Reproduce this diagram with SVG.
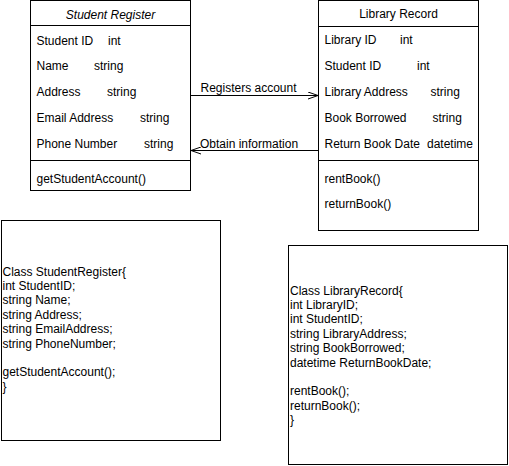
<svg xmlns="http://www.w3.org/2000/svg" width="509" height="466" viewBox="0 0 509 466">
<style>
.box{fill:#fff;stroke:#000;stroke-width:1}
.ln{stroke:#000;stroke-width:1;fill:none}
text{font-family:"Liberation Sans",Arial,sans-serif;font-size:12px;fill:#000}
.ttl{text-anchor:middle}
.it{font-style:italic}
</style>
<defs>
<marker id="open" viewBox="0 0 10 8" refX="10" refY="4" markerWidth="10" markerHeight="8" markerUnits="userSpaceOnUse" orient="auto">
<path d="M0,0.5 L10,4 L0,7.5" fill="none" stroke="#000" stroke-width="1"/>
</marker>
</defs>
<rect width="509" height="466" fill="#fff"/>
<g id="student-register">
<rect class="box" x="30.5" y="0.5" width="160" height="190"/>
<line class="ln" x1="30.5" y1="25.5" x2="190.5" y2="25.5"/>
<line class="ln" x1="30.5" y1="160.5" x2="190.5" y2="160.5"/>
<text class="ttl it" x="110.5" y="18.5">Student Register</text>
<text x="36.5" y="44.5">Student ID</text><text x="108" y="44.5">int</text>
<text x="36.5" y="70">Name</text><text x="94" y="70">string</text>
<text x="36.5" y="96">Address</text><text x="107" y="96">string</text>
<text x="36.5" y="122">Email Address</text><text x="140" y="122">string</text>
<text x="36.5" y="148">Phone Number</text><text x="144" y="148">string</text>
<text x="36.5" y="182.5">getStudentAccount()</text>
</g>
<g id="library-record">
<rect class="box" x="318.5" y="0.5" width="160" height="230"/>
<line class="ln" x1="318.5" y1="26.5" x2="478.5" y2="26.5"/>
<line class="ln" x1="318.5" y1="160.5" x2="478.5" y2="160.5"/>
<text class="ttl" x="398.5" y="18">Library Record</text>
<text x="324.5" y="44">Library ID</text><text x="400" y="44">int</text>
<text x="324.5" y="70">Student ID</text><text x="417" y="70">int</text>
<text x="324.5" y="96">Library Address</text><text x="430.5" y="96">string</text>
<text x="324.5" y="122">Book Borrowed</text><text x="432.5" y="122">string</text>
<text x="324.5" y="148">Return Book Date</text><text x="427" y="148">datetime</text>
<text x="324.5" y="182.5">rentBook()</text>
<text x="324.5" y="208">returnBook()</text>
</g>
<g id="connectors">
<line class="ln" x1="190.5" y1="95.5" x2="318" y2="95.5" marker-end="url(#open)"/>
<text x="200.5" y="91.5">Registers account</text>
<line class="ln" x1="318" y1="150.5" x2="191" y2="150.5" marker-end="url(#open)"/>
<text x="200" y="147.5">Obtain information</text>
</g>
<g id="student-register-code">
<rect class="box" x="1.5" y="220.5" width="219" height="220"/>
<text x="2.5" y="275.5">Class StudentRegister{</text>
<text x="2.5" y="289.9">int StudentID;</text>
<text x="2.5" y="304.3">string Name;</text>
<text x="2.5" y="318.7">string Address;</text>
<text x="2.5" y="333.1">string EmailAddress;</text>
<text x="2.5" y="347.5">string PhoneNumber;</text>
<text x="2.5" y="376.3">getStudentAccount();</text>
<text x="2.5" y="390.7">}</text>
</g>
<g id="library-record-code">
<rect class="box" x="288.5" y="245.5" width="219" height="219"/>
<text x="290" y="294.5">Class LibraryRecord{</text>
<text x="290" y="308.9">int LibraryID;</text>
<text x="290" y="323.3">int StudentID;</text>
<text x="290" y="337.7">string LibraryAddress;</text>
<text x="290" y="352.1">string BookBorrowed;</text>
<text x="290" y="366.5">datetime ReturnBookDate;</text>
<text x="290" y="395.3">rentBook();</text>
<text x="290" y="409.7">returnBook();</text>
<text x="290" y="424.1">}</text>
</g>
</svg>
